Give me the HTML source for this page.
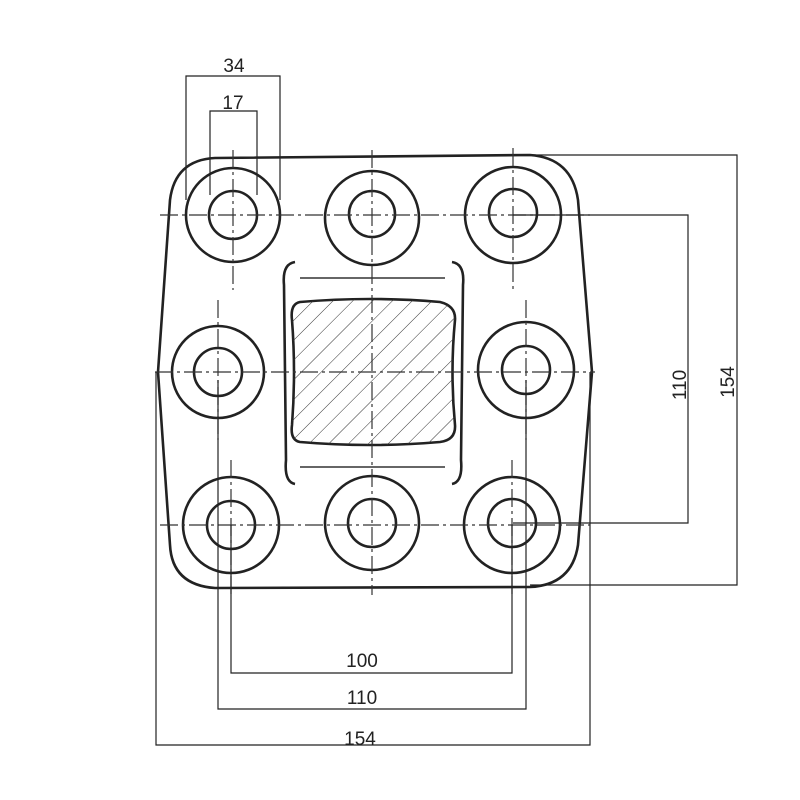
<!DOCTYPE html>
<html><head><meta charset="utf-8"><style>html,body{margin:0;padding:0;background:#fff}svg{display:block}</style></head>
<body>
<svg width="800" height="800" viewBox="0 0 800 800" xmlns="http://www.w3.org/2000/svg" font-family="Liberation Sans, sans-serif">
<defs>
<pattern id="h" patternUnits="userSpaceOnUse" width="14" height="14" patternTransform="rotate(45)">
<line x1="0" y1="0" x2="0" y2="14" stroke="#333" stroke-width="1"/>
</pattern>
<clipPath id="c"><path d="M300,302 Q370,296 440,302 Q456,306 455,320 Q450,372 455,425 Q456,440 440,442 Q370,448 300,442 Q290,440 292,425 Q296,372 292,320 Q290,304 300,302 Z"/></clipPath>
</defs>
<g fill="none" stroke="#222" stroke-width="2.6">
<path d="M215,158 L530,155 Q572,158 578,200 L592,372 L578,545 Q572,585 530,587 L215,588 Q172,585 170,545 L158,372 L170,200 Q175,160 215,158 Z"/>
<circle cx="233" cy="215" r="47"/><circle cx="233" cy="215" r="24"/>
<circle cx="372" cy="218" r="47"/><circle cx="372" cy="214" r="23"/>
<circle cx="513" cy="215" r="48"/><circle cx="513" cy="213" r="24"/>
<circle cx="218" cy="372" r="46"/><circle cx="218" cy="372" r="24"/>
<circle cx="526" cy="370" r="48"/><circle cx="526" cy="370" r="24"/>
<circle cx="231" cy="525" r="48"/><circle cx="231" cy="525" r="24"/>
<circle cx="372" cy="523" r="47"/><circle cx="372" cy="523" r="24"/>
<circle cx="512" cy="525" r="48"/><circle cx="512" cy="523" r="24"/>
<path d="M300,302 Q370,296 440,302 Q456,306 455,320 Q450,372 455,425 Q456,440 440,442 Q370,448 300,442 Q290,440 292,425 Q296,372 292,320 Q290,304 300,302 Z"/>
<path d="M295,262 Q282,264 284,285 L286,460 Q284,482 295,484"/>
<path d="M452,262 Q465,264 463,285 L461,460 Q463,482 452,484"/>
</g>
<rect x="285" y="295" width="175" height="155" fill="url(#h)" clip-path="url(#c)"/>
<g stroke="#333" stroke-width="1.6">
<line x1="300" y1="278" x2="445" y2="278"/>
<line x1="300" y1="467" x2="445" y2="467"/>
</g>
<g stroke="#333" stroke-width="1.2" stroke-dasharray="18,4,3,4">
<line x1="160" y1="215" x2="590" y2="215"/>
<line x1="155" y1="372" x2="595" y2="372"/>
<line x1="160" y1="525" x2="590" y2="525"/>
<line x1="233" y1="150" x2="233" y2="290"/>
<line x1="372" y1="150" x2="372" y2="595"/>
<line x1="513" y1="148" x2="513" y2="290"/>
<line x1="218" y1="300" x2="218" y2="440"/>
<line x1="526" y1="300" x2="526" y2="440"/>
<line x1="231" y1="460" x2="231" y2="595"/>
<line x1="512" y1="460" x2="512" y2="595"/>
</g>
<g fill="none" stroke="#222" stroke-width="1.2">
<path d="M186,200 V76 H280 V200"/>
<path d="M210,195 V111 H257 V195"/>
<path d="M530,155 H737 V585 H530"/>
<path d="M513,215 H688 V523 H513"/>
<path d="M231,525 V673 H512 V525"/>
<path d="M218,380 V709 H526 V380"/>
<path d="M156,372 V745 H590 V372"/>
</g>
<g font-size="19" fill="#222" text-anchor="middle">
<text x="234" y="72">34</text>
<text x="233" y="109">17</text>
<text x="362" y="667">100</text>
<text x="362" y="704">110</text>
<text x="360" y="745">154</text>
<text transform="translate(686,385) rotate(-90)">110</text>
<text transform="translate(734,382) rotate(-90)">154</text>
</g>
</svg>
</body></html>
